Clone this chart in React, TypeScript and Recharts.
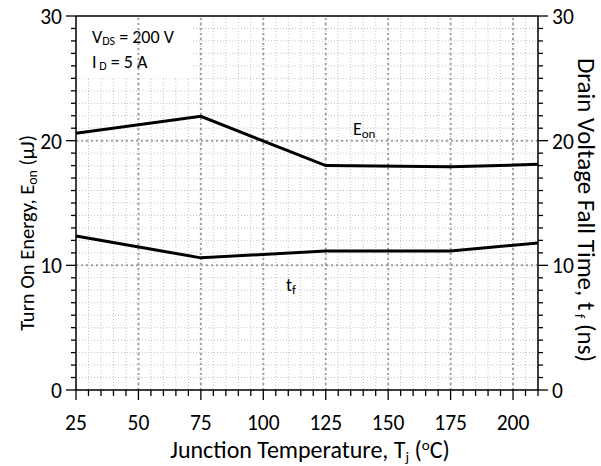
import {
  LineChart,
  Line,
  XAxis,
  YAxis,
  CartesianGrid,
  ReferenceLine,
  ReferenceArea,
  ReferenceDot,
} from 'recharts';

const temps = [25, 75, 125, 175, 210];
const eonValues = [20.6, 21.95, 18.0, 17.9, 18.1];
const tfValues = [12.35, 10.6, 11.15, 11.15, 11.8];

const xTicks = [
  25, 30, 35, 40, 45, 50, 55, 60, 65, 70, 75, 80, 85, 90, 95, 100, 105, 110,
  115, 120, 125, 130, 135, 140, 145, 150, 155, 160, 165, 170, 175, 180, 185,
  190, 195, 200, 205, 210,
];
const xMajor = [50, 75, 100, 125, 150, 175, 200];
const yTicks = [
  0, 1, 2, 3, 4, 5, 6, 7, 8, 9, 10, 11, 12, 13, 14, 15, 16, 17, 18, 19, 20,
  21, 22, 23, 24, 25, 26, 27, 28, 29, 30,
];
const yMajor = [10, 20];

const data = temps.map((t, i) => ({
  temp: t,
  eon: eonValues[i],
  tf: tfValues[i],
}));

const FONT = 'Carlito, Lato, sans-serif';

function XTick({ x, y, payload }: any) {
  const major = payload.value % 25 === 0;
  return (
    <g>
      <line x1={x} x2={x} y1={y} y2={y + (major ? 10 : 6)} stroke="#000" strokeWidth={1.3} />
      {major && (
        <text x={x} y={y + 40} textAnchor="middle" fontSize={21.5} fontFamily={FONT} fill="#000">
          {payload.value}
        </text>
      )}
    </g>
  );
}

function LeftTick({ x, y, payload }: any) {
  const major = payload.value % 10 === 0;
  return (
    <g>
      <line x1={x} x2={x - (major ? 10 : 5)} y1={y} y2={y} stroke="#000" strokeWidth={1.3} />
      {major && (
        <text x={x - 14} y={y + 8} textAnchor="end" fontSize={21.5} fontFamily={FONT} fill="#000">
          {payload.value}
        </text>
      )}
    </g>
  );
}

function RightTick({ x, y, payload }: any) {
  const major = payload.value % 10 === 0;
  return (
    <g>
      <line x1={x} x2={x + (major ? 10 : 5)} y1={y} y2={y} stroke="#000" strokeWidth={1.3} />
      {major && (
        <text x={x + 14} y={y + 8} textAnchor="start" fontSize={21.5} fontFamily={FONT} fill="#000">
          {payload.value}
        </text>
      )}
    </g>
  );
}

function App() {
  return (
    <div style={{ position: 'absolute', left: 0, top: 0, width: 601, height: 466, background: '#fff' }}>
      <LineChart
        width={601}
        height={466}
        data={data}
        margin={{ top: 16, right: 0, bottom: 0, left: 0 }}
      >
        <CartesianGrid
          yAxisId="eon"
          stroke="#c4c4c4"
          strokeDasharray="1 2"
        />
        <XAxis
          dataKey="temp"
          type="number"
          domain={[25, 210]}
          ticks={xTicks}
          interval={0}
          height={76}
          tickSize={0}
          tickMargin={0}
          tickLine={false}
          axisLine={{ stroke: '#000', strokeWidth: 1.5 }}
          tick={<XTick />}
          label={{
            content: ({ viewBox }: any) => (
              <text
                x={viewBox.x + viewBox.width / 2 + 3}
                y={viewBox.y + 68}
                textAnchor="middle"
                fontSize={24}
                fontFamily={FONT}
                fill="#000"
              >
                Junction Temperature, T
                <tspan fontSize={15} dy={4}>j</tspan>
                <tspan dy={-4}> (</tspan>
                <tspan fontSize={15} dy={-8}>o</tspan>
                <tspan dy={8}>C)</tspan>
              </text>
            ),
          }}
        />
        <YAxis
          yAxisId="eon"
          domain={[0, 30]}
          ticks={yTicks}
          interval={0}
          width={76}
          tickSize={0}
          tickMargin={0}
          tickLine={false}
          axisLine={{ stroke: '#000', strokeWidth: 1.5 }}
          tick={<LeftTick />}
          label={{
            content: ({ viewBox }: any) => {
              const cx = viewBox.x + 34;
              const cy = viewBox.y + viewBox.height / 2 + 30;
              return (
                <text
                  x={cx}
                  y={cy}
                  transform={`rotate(-90 ${cx} ${cy})`}
                  textAnchor="middle"
                  fontSize={20.5}
                  fontFamily={FONT}
                  fill="#000"
                >
                  Turn On Energy, E
                  <tspan fontSize={14} dy={3}>on</tspan>
                  <tspan dy={-3}> (µJ)</tspan>
                </text>
              );
            },
          }}
        />
        <YAxis
          yAxisId="tf"
          orientation="right"
          domain={[0, 30]}
          ticks={yTicks}
          interval={0}
          width={63}
          tickSize={0}
          tickMargin={0}
          tickLine={false}
          axisLine={{ stroke: '#000', strokeWidth: 1.5 }}
          tick={<RightTick />}
          label={{
            content: ({ viewBox }: any) => {
              const cx = viewBox.x + 40;
              const cy = viewBox.y + viewBox.height / 2 + 7;
              return (
                <text
                  x={cx}
                  y={cy}
                  transform={`rotate(90 ${cx} ${cy})`}
                  textAnchor="middle"
                  fontSize={25}
                  fontFamily={FONT}
                  fill="#000"
                >
                  Drain Voltage Fall Time, t
                  <tspan fontSize={15} dy={3}> f</tspan>
                  <tspan dy={-3}> (ns)</tspan>
                </text>
              );
            },
          }}
        />

        {xMajor.map((v) => (
          <ReferenceLine
            key={`vx-${v}`}
            yAxisId="eon"
            x={v}
            stroke="#a0a0a0"
            strokeWidth={2}
            strokeDasharray="2 3"
          />
        ))}
        {yMajor.map((v) => (
          <ReferenceLine
            key={`hy-${v}`}
            yAxisId="eon"
            y={v}
            stroke="#a0a0a0"
            strokeWidth={2}
            strokeDasharray="2 3"
          />
        ))}
        <ReferenceLine yAxisId="eon" y={30} stroke="#000" strokeWidth={1.5} />

        <ReferenceArea
          yAxisId="eon"
          x1={25}
          x2={71}
          y1={25}
          y2={30}
          fill="#fff"
          fillOpacity={1}
          stroke="none"
          label={{
            content: ({ viewBox }: any) => (
              <g fontFamily={FONT} fill="#000">
                <text x={viewBox.x + 16} y={viewBox.y + 27} fontSize={18}>
                  V<tspan fontSize={12} dy={2}>DS</tspan>
                  <tspan dy={-2}> = 200 V</tspan>
                </text>
                <text x={viewBox.x + 16} y={viewBox.y + 52} fontSize={18}>
                  I<tspan fontSize={12} dy={2}> D</tspan>
                  <tspan dy={-2}> = 5 A</tspan>
                </text>
              </g>
            ),
          }}
        />

        <Line
          yAxisId="eon"
          dataKey="eon"
          type="linear"
          stroke="#000"
          strokeWidth={3}
          dot={false}
          isAnimationActive={false}
        />
        <Line
          yAxisId="tf"
          dataKey="tf"
          type="linear"
          stroke="#000"
          strokeWidth={3}
          dot={false}
          isAnimationActive={false}
        />

        <ReferenceDot
          yAxisId="eon"
          x={135.9}
          y={20.45}
          r={0}
          fill="none"
          stroke="none"
          label={{
            content: ({ viewBox }: any) => (
              <text x={viewBox.x} y={viewBox.y} fontSize={18} fontFamily={FONT} fill="#000">
                E<tspan fontSize={13} dy={3}>on</tspan>
              </text>
            ),
          }}
        />
        <ReferenceDot
          yAxisId="eon"
          x={109.1}
          y={7.94}
          r={0}
          fill="none"
          stroke="none"
          label={{
            content: ({ viewBox }: any) => (
              <text x={viewBox.x} y={viewBox.y} fontSize={18} fontFamily={FONT} fill="#000">
                t<tspan fontSize={13} dy={3}>f</tspan>
              </text>
            ),
          }}
        />
      </LineChart>
    </div>
  );
}

export default App;
